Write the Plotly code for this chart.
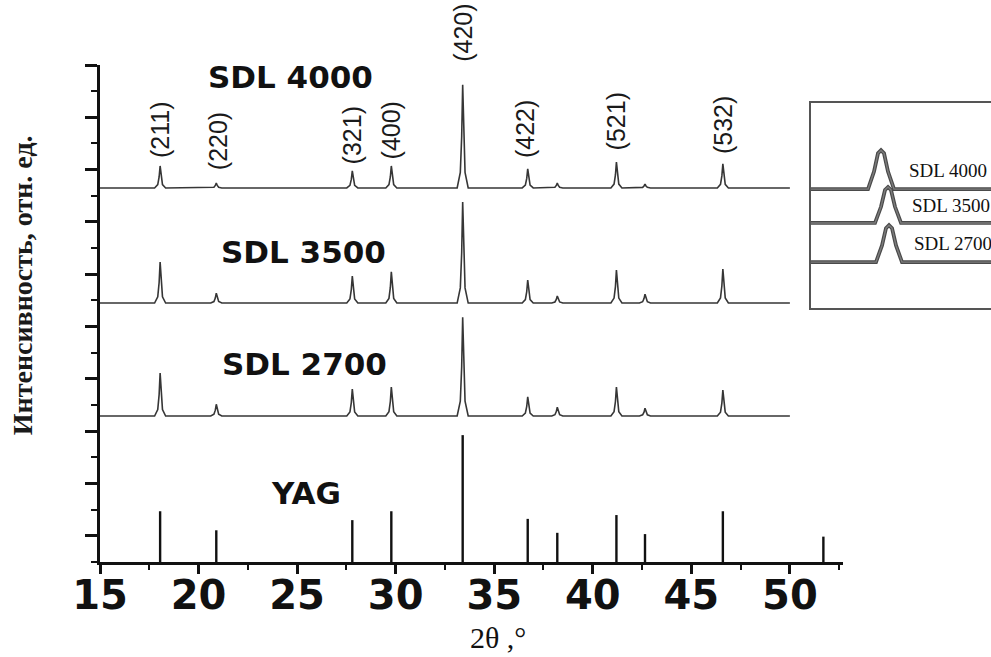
import plotly.graph_objects as go

# ---- diffraction data (2θ in degrees, intensities in relative units) ----
peak_2theta = [18.05, 20.9, 27.8, 29.78, 33.4, 36.7, 38.2, 41.2, 42.65, 46.6]
sdl4000_heights = [0.84, 0.19, 0.65, 0.84, 3.94, 0.73, 0.19, 0.99, 0.15, 0.92]
sdl3500_heights = [1.57, 0.38, 1.03, 1.19, 3.86, 0.88, 0.27, 1.26, 0.34, 1.30]
sdl2700_heights = [1.64, 0.45, 1.03, 1.11, 3.78, 0.73, 0.34, 1.11, 0.30, 0.99]
sample_names = ["SDL 4000", "SDL 3500", "SDL 2700"]
sample_baselines = [14.3, 9.9, 5.58]
scan_start, scan_end = 15.0, 50.0

# reference YAG stick pattern (relative intensity, %)
yag_2theta = [18.05, 20.9, 27.8, 29.78, 33.4, 36.7, 38.2, 41.2, 42.65, 46.6, 51.7]
yag_intensity = [40, 25, 33, 40, 100, 34, 23, 37, 22, 40, 20]

# Miller indices of the labelled reflections
hkl_labels = ["(211)", "(220)", "(321)", "(400)", "(420)", "(422)", "(521)", "(532)"]
hkl_x = [18.04, 20.99, 27.8, 29.78, 33.4, 36.56, 41.2, 46.6]
hkl_y = [16.55, 16.09, 16.32, 16.51, 20.22, 16.55, 16.86, 16.7]

# inset: (420) reflection of each sample
inset_pos = [33.20, 33.27, 33.28]
inset_base = [5.8, 4.15, 2.24]
inset_height = [1.9, 1.75, 1.8]

# peak profile template (offset in degrees, fraction of peak height)
PROFILE = [(-0.28, 0.0), (-0.12, 0.15), (-0.05, 0.5), (0.0, 1.0),
           (0.05, 0.5), (0.12, 0.15), (0.28, 0.0)]
INSET_PROFILE = [(-0.13, 0.0), (-0.07, 0.45), (-0.03, 0.92), (0.0, 1.0),
                 (0.03, 0.92), (0.07, 0.45), (0.13, 0.0)]
YAG_SCALE = 4.85 / 100.0
Y_MAX = 19.0


def pattern(positions, heights, base, start, end, template):
    xs, ys = [start], [base]
    for p, h in zip(positions, heights):
        for off, frac in template:
            xs.append(p + off)
            ys.append(base + frac * h)
    xs.append(end)
    ys.append(base)
    return xs, ys


fig = go.Figure()

for name, heights, base in zip(sample_names,
                               [sdl4000_heights, sdl3500_heights, sdl2700_heights],
                               sample_baselines):
    xs, ys = pattern(peak_2theta, heights, base, scan_start, scan_end, PROFILE)
    fig.add_trace(go.Scatter(x=xs, y=ys, mode="lines", name=name,
                             line=dict(color="#363636", width=1.6),
                             showlegend=False, hoverinfo="skip"))

stick_x, stick_y = [], []
for p, i in zip(yag_2theta, yag_intensity):
    stick_x += [p, p, None]
    stick_y += [0, i * YAG_SCALE, None]
fig.add_trace(go.Scatter(x=stick_x, y=stick_y, mode="lines", name="YAG",
                         line=dict(color="#111111", width=2.4),
                         showlegend=False, hoverinfo="skip"))

# inset traces
for pos, base, h in zip(inset_pos, inset_base, inset_height):
    xs, ys = pattern([pos], [h], base, 32.5, 34.3, INSET_PROFILE)
    fig.add_trace(go.Scatter(x=xs, y=ys, mode="lines", xaxis="x2", yaxis="y2",
                             line=dict(color="#4a4a4a", width=3.8),
                             showlegend=False, hoverinfo="skip"))
    fig.add_trace(go.Scatter(x=xs, y=ys, mode="lines", xaxis="x2", yaxis="y2",
                             line=dict(color="#7c7c7c", width=1.4),
                             showlegend=False, hoverinfo="skip"))

annotations = []
label_font = dict(family="DejaVu Sans", size=31, color="#111111")
sample_label_pos = [(24.64, 18.54), (25.3, 11.85), (25.35, 7.57)]
for name, (lx, ly) in zip(sample_names, sample_label_pos):
    annotations.append(dict(x=lx, y=ly, xref="x", yref="y", text=f"<b>{name}</b>",
                            showarrow=False, font=label_font))
annotations.append(dict(x=25.45, y=2.65, xref="x", yref="y", text="<b>YAG</b>",
                        showarrow=False, font=label_font))

for t, lx, ly in zip(hkl_labels, hkl_x, hkl_y):
    # labels above the top of the y range are placed in paper units
    yref, yv = ("y", ly) if ly <= Y_MAX else ("paper", ly / Y_MAX)
    annotations.append(dict(x=lx, y=yv, xref="x", yref=yref, text=t, textangle=-90,
                            showarrow=False, xanchor="center", yanchor="middle",
                            font=dict(family="Liberation Sans", size=25, color="#1a1a1a")))

inset_label_pos = [(33.46, 6.73), (33.49, 5.02), (33.51, 3.17)]
for name, (lx, ly) in zip(sample_names, inset_label_pos):
    annotations.append(dict(x=lx, y=ly, xref="x2", yref="y2", text=name,
                            xanchor="left", showarrow=False,
                            font=dict(family="Liberation Serif", size=19, color="#111111")))

annotations.append(dict(x=-0.0875, y=0.557, xref="paper", yref="paper",
                        text="<b>Интенсивность, отн. ед.</b>", textangle=-90,
                        showarrow=False, xanchor="center", yanchor="middle",
                        font=dict(family="Liberation Serif", size=28, color="#1a1a1a")))
annotations.append(dict(x=35.2, y=-0.151, xref="x", yref="paper", text="2θ ,°",
                        showarrow=False, xanchor="center", yanchor="middle",
                        font=dict(family="Liberation Serif", size=30, color="#111111")))

fig.update_layout(
    width=991, height=657,
    margin=dict(l=100, r=0, t=65, b=95),
    paper_bgcolor="white", plot_bgcolor="white",
    annotations=annotations,
    xaxis=dict(domain=[0, 0.834], range=[15, 52.7], tick0=15, dtick=5,
               ticks="outside", ticklen=9, tickwidth=2.5, tickcolor="#111111",
               showline=True, linewidth=3, linecolor="#111111",
               showgrid=False, zeroline=False,
               ticklabelstandoff=-13,
               tickfont=dict(family="DejaVu Sans", size=40, color="#111111"),
               tickprefix="<b>", ticksuffix="</b>",
               minor=dict(dtick=2.5, tick0=15, ticks="outside", ticklen=5,
                          tickwidth=2, tickcolor="#111111")),
    yaxis=dict(domain=[0, 1], range=[0, Y_MAX], tick0=1, dtick=2,
               ticks="outside", ticklen=12, tickwidth=2.5, tickcolor="#111111",
               showline=True, linewidth=3, linecolor="#111111",
               showgrid=False, zeroline=False, showticklabels=False,
               minor=dict(dtick=1, tick0=0, ticks="outside", ticklen=6,
                          tickwidth=2, tickcolor="#111111")),
    xaxis2=dict(domain=[0.798, 1.0], range=[32.5, 34.3], anchor="y2",
                showline=True, mirror=True, linewidth=1.5, linecolor="#555555",
                showgrid=False, zeroline=False, showticklabels=False, ticks=""),
    yaxis2=dict(domain=[0.511, 0.9235], range=[0, 10], anchor="x2",
                showline=True, mirror=False, linewidth=1.5, linecolor="#555555",
                showgrid=False, zeroline=False, showticklabels=False, ticks=""),
)

fig.write_html("out.html")
